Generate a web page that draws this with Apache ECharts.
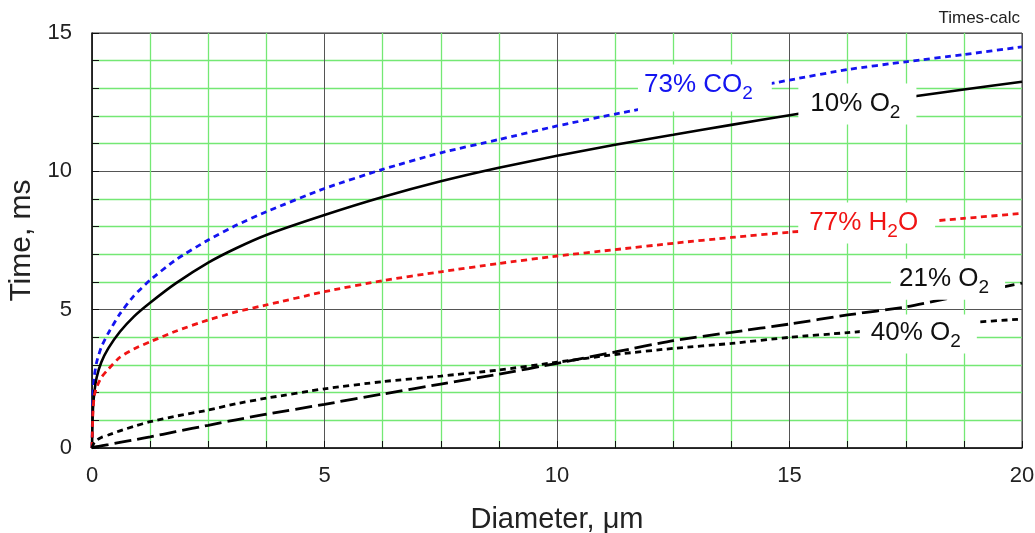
<!DOCTYPE html>
<html><head><meta charset="utf-8">
<script src="https://cdn.jsdelivr.net/npm/echarts@6/dist/echarts.min.js"></script>
<style>html,body{margin:0;padding:0;background:#fff}#c{width:1035px;height:533px}</style>
</head><body><div id="c"></div>
<script>
// ---- data ----
const diameter = [0, 0.02, 0.05, 0.1, 0.2, 0.35, 0.6, 0.9, 1.25, 1.8, 2.5, 3.1, 3.75, 5, 6.25, 7.5, 8.75, 10, 11.25, 12.5, 13.75, 15, 16.25, 17.5, 18.75, 20];
const co2_73 = [0, 1.9, 2.6, 3.1, 3.65, 4.15, 4.85, 5.5, 6.07, 6.8, 7.52, 8.05, 8.54, 9.38, 10.07, 10.67, 11.15, 11.64, 12.07, 12.48, 12.9, 13.3, 13.68, 13.96, 14.22, 14.5];
const o2_10  = [0, 1.4, 2.0, 2.55, 3.1, 3.6, 4.2, 4.75, 5.25, 5.95, 6.7, 7.22, 7.7, 8.42, 9.07, 9.64, 10.13, 10.56, 10.96, 11.32, 11.68, 12.03, 12.36, 12.67, 12.96, 13.24];
const h2o_77 = [0, 1.3, 1.9, 2.2, 2.55, 2.85, 3.28, 3.58, 3.84, 4.22, 4.63, 4.92, 5.17, 5.65, 6.05, 6.37, 6.67, 6.94, 7.17, 7.4, 7.61, 7.8, 7.96, 8.12, 8.3, 8.48];
const o2_21  = [0, 0.01, 0.03, 0.05, 0.08, 0.12, 0.2, 0.29, 0.4, 0.59, 0.82, 1.02, 1.22, 1.58, 1.95, 2.31, 2.67, 3.06, 3.47, 3.88, 4.18, 4.48, 4.81, 5.1, 5.53, 5.96];
const o2_40  = [0, 0.1, 0.2, 0.28, 0.38, 0.47, 0.62, 0.78, 0.95, 1.15, 1.37, 1.6, 1.8, 2.14, 2.4, 2.6, 2.82, 3.1, 3.38, 3.6, 3.78, 4.0, 4.17, 4.35, 4.52, 4.66];
const seriesNames = ['73% CO2', '10% O2', '77% H2O', '21% O2', '40% O2'];
const labelTexts = ['{n|73% CO}{s|2}', '{n|10% O}{s|2}', '{n|77% H}{s|2}{n|O}', '{n|21% O}{s|2}', '{n|40% O}{s|2}'];
const xTitle = 'Diameter, \u03bcm';
const yTitle = 'Time, ms';
const cornerNote = 'Times-calc';

const pairs = arr => diameter.map((d, i) => [d, arr[i]]);
const FONT = 'Liberation Sans, Arial, Helvetica, sans-serif';

const lineSeries = [
  {data: co2_73, color: '#1414f0', type: [6, 4.5], width: 2.8},
  {data: o2_10,  color: '#000000', type: 'solid', width: 2.6},
  {data: h2o_77, color: '#f01414', type: [6, 4.5], width: 2.8},
  {data: o2_21,  color: '#000000', type: [17, 6], width: 2.8},
  {data: o2_40,  color: '#000000', type: [6, 4.5], width: 2.8}
].map((s, i) => ({
  name: seriesNames[i], type: 'line', data: pairs(s.data),
  showSymbol: false, smooth: 0.2, z: 3,
  lineStyle: {color: s.color, width: s.width, type: s.type}
}));

const richN = {fontSize: 26, fontFamily: FONT};
const richS = {fontSize: 19, fontFamily: FONT, padding: [18, 0, 0, 0]};
// label boxes (white background hides lines beneath, as in the reference)
const labelDefs = [
  {pos: [13.18, 13.01], color: '#1414f0', pad: [2, 19, 8, 6]},
  {pos: [16.46, 12.43], color: '#111111', pad: [2, 16, 2, 12]},
  {pos: [16.66, 8.13],  color: '#f01414', pad: [2, 17, 2, 11]},
  {pos: [18.41, 6.10],  color: '#111111', pad: [2, 16, 2, 8]},
  {pos: [17.77, 4.12],  color: '#111111', pad: [0, 16, 2, 11]}
];
const labelSeries = {
  type: 'scatter', z: 10, zlevel: 1, silent: true, symbolSize: 1,
  itemStyle: {color: '#ffffff', opacity: 1},
  emphasis: {disabled: true},
  data: labelDefs.map((d, i) => ({
    value: d.pos,
    label: {
      show: true, position: 'inside', formatter: labelTexts[i],
      color: d.color, opacity: 1, backgroundColor: '#ffffff', padding: d.pad,
      rich: {n: Object.assign({color: d.color}, richN), s: Object.assign({color: d.color}, richS)}
    }
  }))
};

const chart = echarts.init(document.getElementById('c'), null, {renderer: 'canvas'});
chart.setOption({
  animation: false,
  backgroundColor: '#fff',
  textStyle: {fontFamily: FONT},
  grid: {left: 92, right: 13, top: 33, bottom: 85, containLabel: false, outerBoundsMode: 'none',
         show: true, borderColor: '#333', borderWidth: 1, backgroundColor: 'transparent'},
  graphic: [{type: 'text', right: 15, top: 10, style: {text: cornerNote, fontSize: 17, fontFamily: FONT, fill: '#222'}}],
  xAxis: {
    type: 'value', min: 0, max: 20, interval: 5,
    name: xTitle, nameLocation: 'middle', nameGap: 57,
    nameTextStyle: {fontSize: 29, color: '#222', fontFamily: FONT},
    axisLine: {show: true, onZero: false, lineStyle: {color: '#111', width: 1.5}},
    axisTick: {show: true, inside: true, length: 7, lineStyle: {color: '#111', width: 1}},
    minorTick: {show: true, splitNumber: 4, length: 7, lineStyle: {color: '#111', width: 1}},
    splitLine: {show: true, lineStyle: {color: '#555', width: 1}},
    minorSplitLine: {show: true, lineStyle: {color: '#74e874', width: 1.3}},
    axisLabel: {fontSize: 22, color: '#222', margin: 17, fontFamily: FONT}
  },
  yAxis: {
    type: 'value', min: 0, max: 15, interval: 5,
    name: yTitle, nameLocation: 'middle', nameGap: 40,
    nameTextStyle: {fontSize: 30, color: '#222', fontFamily: FONT},
    axisLine: {show: true, onZero: false, lineStyle: {color: '#111', width: 1.5}},
    axisTick: {show: true, inside: true, length: 7, lineStyle: {color: '#111', width: 1}},
    minorTick: {show: true, splitNumber: 5, length: 7, lineStyle: {color: '#111', width: 1}},
    splitLine: {show: true, lineStyle: {color: '#555', width: 1}},
    minorSplitLine: {show: true, lineStyle: {color: '#74e874', width: 1.3}},
    axisLabel: {fontSize: 22, color: '#222', margin: 20, fontFamily: FONT}
  },
  series: lineSeries.concat([labelSeries])
});
</script></body></html>
